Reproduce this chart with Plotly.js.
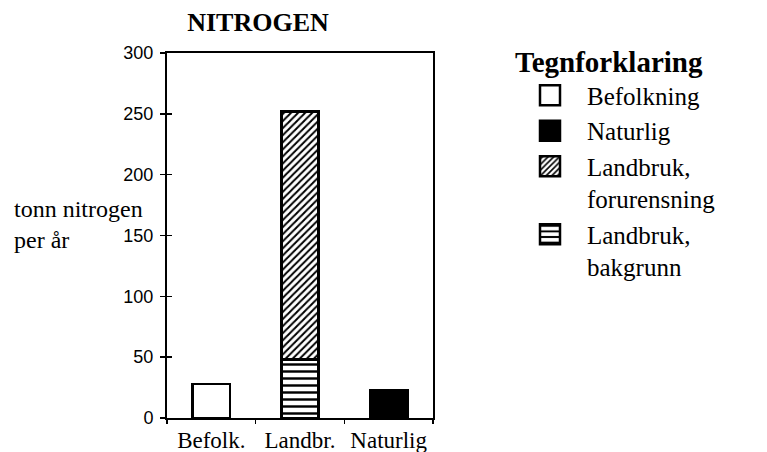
<!DOCTYPE html>
<html>
<head>
<meta charset="utf-8">
<script src="https://cdn.plot.ly/plotly-3.0.1.min.js"></script>
<style>html,body{margin:0;padding:0;background:#fff;}#chart{width:767px;height:452px;}</style>
</head>
<body>
<div id="chart"></div>
<script>
// Data
const categories = ["Befolk.", "Landbr.", "Naturlig"];
const befolkning = [28];
const naturlig = [23];
const landbrukBakgrunn = [48];
const landbrukForurensning = [204];
const yTicks = [0, 50, 100, 150, 200, 250, 300];
const chartTitle = "NITROGEN";
const yTitle = "tonn nitrogen<br>per år";
const legendTitle = "Tegnforklaring";

const serif = "Liberation Serif, Times New Roman, serif";
const sans = "Liberation Sans, Arial, sans-serif";
const barW = 0.42;
const outline = {color: "#000", width: 2.5};

const traces = [
  {type: "bar", name: "Befolkning", x: [categories[0]], y: befolkning, width: barW,
   marker: {color: "#fff", line: outline}, legendrank: 1},
  {type: "bar", name: "Naturlig", x: [categories[2]], y: naturlig, width: barW,
   marker: {color: "#000", line: outline}, legendrank: 2},
  {type: "bar", name: "Landbruk,<br>bakgrunn", x: [categories[1]], y: landbrukBakgrunn, width: barW,
   marker: {color: "#fff", line: outline,
     pattern: {shape: "-", fgcolor: "#000", bgcolor: "#fff", size: 7, solidity: 0.35}}, legendrank: 4},
  {type: "bar", name: "Landbruk,<br>forurensning", x: [categories[1]], y: landbrukForurensning, width: barW,
   marker: {color: "#fff", line: outline,
     pattern: {shape: "/", fgcolor: "#000", bgcolor: "#fff", size: 5, solidity: 0.4}}, legendrank: 3},
  // carrier for the inner tick marks of the left axis (no visible mark)
  {type: "scatter", mode: "lines", x: [categories[0], categories[2]], y: [0, 0], yaxis: "y2",
   line: {width: 0}, showlegend: false, hoverinfo: "skip"}
];

const layout = {
  width: 767, height: 452,
  margin: {l: 167, r: 334, t: 53, b: 34},
  paper_bgcolor: "#fff", plot_bgcolor: "#fff",
  barmode: "stack",
  showlegend: true,
  title: {text: "<b>" + chartTitle + "</b>", font: {family: serif, size: 26, color: "#000"},
          xref: "container", x: 258/767, xanchor: "center", yref: "container", y: 1 - 22/452, yanchor: "middle"},
  xaxis: {
    type: "category", categoryorder: "array", categoryarray: categories, range: [-0.5, 2.5],
    showline: true, linecolor: "#000", linewidth: 2, mirror: true,
    ticks: "outside", tickson: "boundaries", ticklen: 4, tickwidth: 1.5, tickcolor: "#000",
    tickangle: 0, automargin: false,
    tickfont: {family: serif, size: 23, color: "#000"}, showgrid: false, zeroline: false
  },
  yaxis: {
    range: [0, 300], tickvals: yTicks, ticktext: yTicks.map(String),
    showline: true, linecolor: "#000", linewidth: 2, mirror: true,
    ticks: "outside", ticklen: 5, tickwidth: 1.5, tickcolor: "#000", ticklabelstandoff: 3,
    tickfont: {family: sans, size: 18, color: "#000"}, showgrid: false, zeroline: false
  },
  yaxis2: {
    overlaying: "y", side: "left", range: [0, 300], tickvals: yTicks, showticklabels: false,
    ticks: "inside", ticklen: 5, tickwidth: 1.5, tickcolor: "#000", showgrid: false, zeroline: false, showline: false
  },
  legend: {
    x: (513 - 167) / 266, xanchor: "left", y: 1.05, yanchor: "top",
    title: {text: "<b>" + legendTitle + "</b>", font: {family: serif, size: 29, color: "#000"}},
    font: {family: serif, size: 25, color: "#000"},
    itemwidth: 64, valign: "top", maxheight: 420,
    traceorder: "normal", bgcolor: "rgba(0,0,0,0)", itemclick: false
  },
  annotations: [
    {text: yTitle, xref: "paper", yref: "paper", x: (12 - 167) / 266, y: (418 - 224) / 365,
     xanchor: "left", yanchor: "middle", align: "left", showarrow: false,
     font: {family: serif, size: 24, color: "#000"}}
  ]
};

Plotly.newPlot("chart", traces, layout, {displayModeBar: false, staticPlot: true}).then(function(gd){
  // enlarge legend swatches to match the reference size
  document.querySelectorAll(".legend .legendpoints path").forEach(function(p){
    p.setAttribute("d", "M10,10H-10V-10H10Z");
  });
});
</script>
</body>
</html>
